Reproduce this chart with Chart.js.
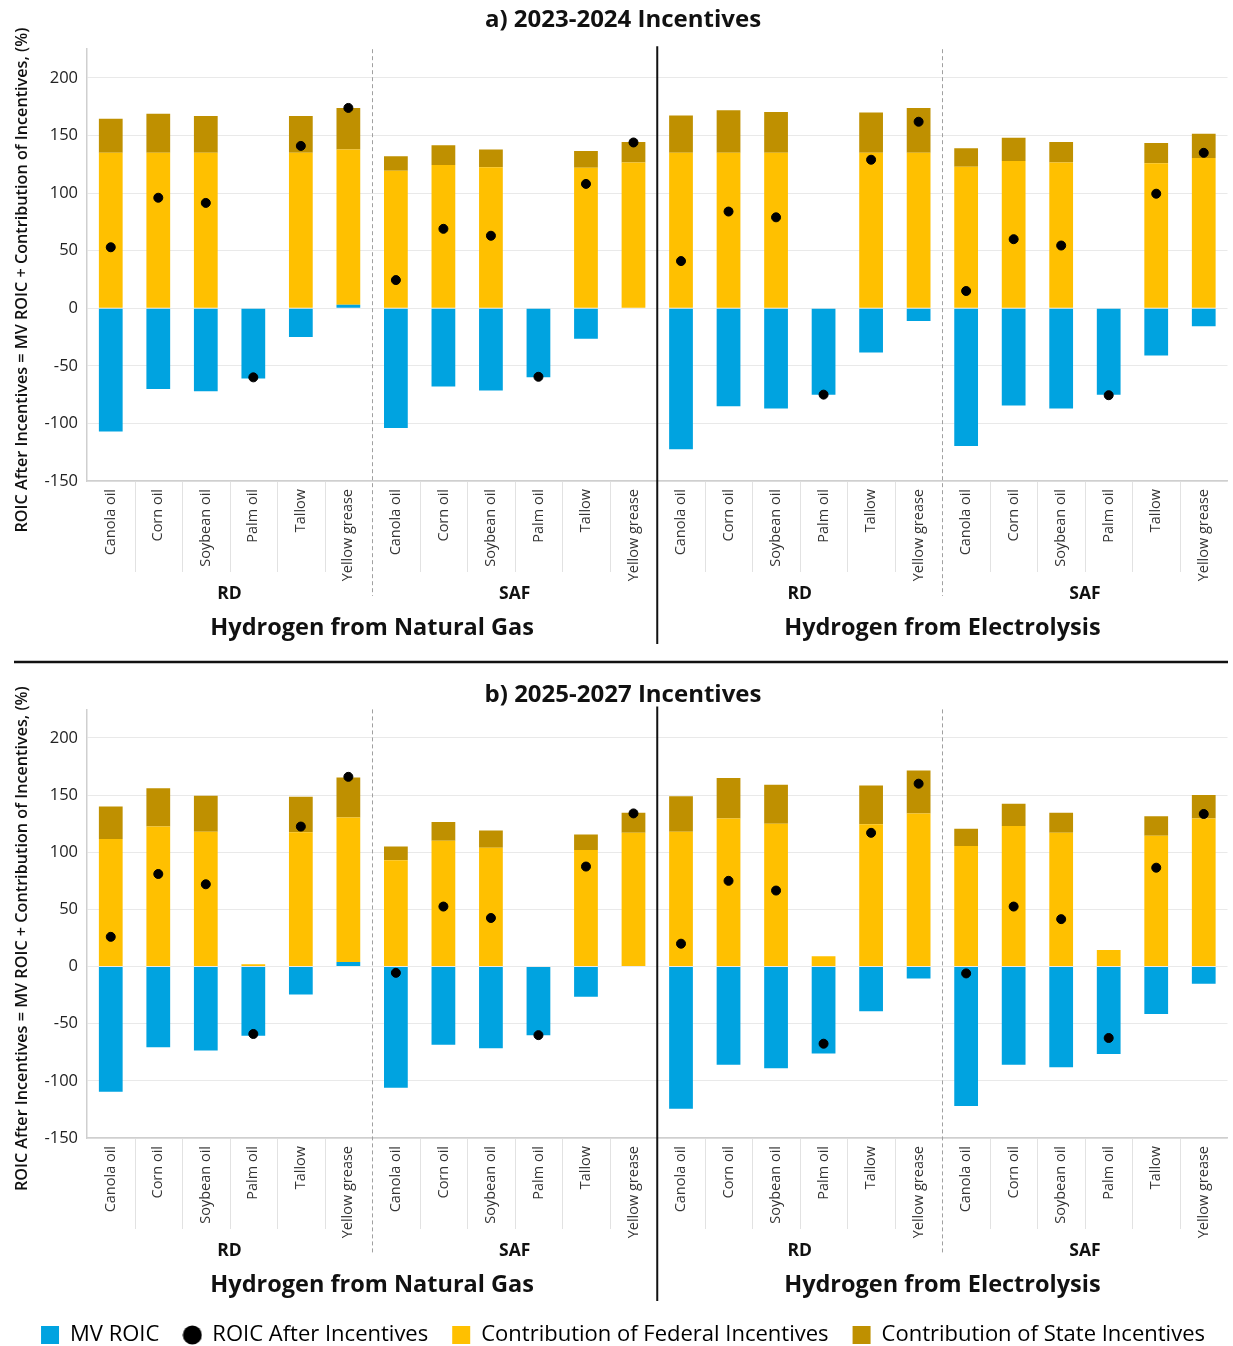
<!DOCTYPE html>
<html>
<head>
<meta charset="utf-8">
<script src="https://cdn.jsdelivr.net/npm/chart.js@4.4.1/dist/chart.umd.min.js"></script>
<style>
  html, body { margin: 0; padding: 0; background: #fff; overflow: hidden; }
  canvas { display: block; }
</style>
</head>
<body>
<canvas id="chartA" width="1233" height="668"></canvas>
<canvas id="chartB" width="1233" height="688"></canvas>
<script>
const feedstocks = ['Canola oil', 'Corn oil', 'Soybean oil', 'Palm oil', 'Tallow', 'Yellow grease'];
const categories = [...feedstocks, ...feedstocks, ...feedstocks, ...feedstocks];
const productLabels = ['RD', 'SAF', 'RD', 'SAF'];
const hydrogenLabels = ['Hydrogen from Natural Gas', 'Hydrogen from Electrolysis'];
const yTicks = [-150, -100, -50, 0, 50, 100, 150, 200];

// a) 2023-2024 incentives  (NG RD, NG SAF, Electrolysis RD, Electrolysis SAF)
const mvRoicA = [-107, -70, -72, -61, -25, 3,  -104, -68, -71.5, -60, -26.5, 0,
                 -122.5, -85, -87, -75, -38.5, -11,  -119.5, -84.5, -87, -75, -41, -15.5];
const federalA = [135, 135, 135, 0, 135, 135,  119.5, 124.5, 122.5, 0, 122, 126.5,
                  135, 135, 135, 0, 135, 135,  123, 128, 126.5, 0, 126, 130.5];
const stateA = [29.5, 34, 32, 0, 32, 36,  12.5, 17, 15.5, 0, 14.5, 18,
                32.5, 37, 35.5, 0, 35, 39,  16, 20, 18, 0, 17.5, 21];
const afterA = [53, 96, 91.5, -60, 141, 174,  24.5, 69, 63, -59.5, 108, 144,
                41, 84, 79, -75, 129, 162,  15, 60, 54.5, -75.5, 99.5, 135];

// b) 2025-2027 incentives
const mvRoicB = [-109.5, -70.5, -73.5, -60.5, -24.5, 4,  -106, -68.5, -71.5, -60, -26.5, 0,
                 -124.5, -86, -89, -76, -39, -10.5,  -122, -86, -88, -76.5, -41.5, -15];
const federalB = [111.5, 122.5, 118, 2, 117.5, 126.5,  93, 110, 104, 0, 102, 117,
                  118, 129.5, 125, 9, 124.5, 134,  105.5, 123, 117, 14.5, 114.5, 129.5];
const stateB = [28.5, 33.5, 31.5, 0, 31, 35,  12, 16.5, 15, 0, 13.5, 17.5,
                31, 35.5, 34, 0, 34, 37.5,  15, 19.5, 17.5, 0, 17, 20.5];
const afterB = [26, 81, 72, -59, 122.5, 166,  -5.5, 52.5, 42.5, -60, 87.5, 134,
                20, 75, 66.5, -67.5, 117, 160,  -6, 52.5, 41.5, -62.5, 86.5, 133.5];

const COLORS = { mv: '#00A3E0', federal: '#FFC000', state: '#BF9000', dot: '#000000' };
const FONT = 'Open Sans';

// small circle image for the legend dot
const dotIcon = document.createElement('canvas');
dotIcon.width = 20; dotIcon.height = 20;
(() => {
  const c = dotIcon.getContext('2d');
  c.fillStyle = '#000';
  c.beginPath();
  c.arc(10, 10, 9.5, 0, Math.PI * 2);
  c.fill();
})();

const decorPlugin = {
  id: 'decor',
  afterDraw(chart, args, opts) {
    const { ctx, chartArea: ca, scales: { x } } = chart;
    const boundary = (i) => (x.getPixelForValue(i - 1) + x.getPixelForValue(i)) / 2;
    ctx.save();

    // light separators between categories below the axis
    ctx.strokeStyle = '#e2e2e2';
    ctx.lineWidth = 1;
    for (let i = 1; i < categories.length; i++) {
      if (i % 6 === 0) continue;
      const bx = Math.round(boundary(i)) + 0.5;
      ctx.beginPath();
      ctx.moveTo(bx, ca.bottom + 1);
      ctx.lineTo(bx, ca.bottom + 91);
      ctx.stroke();
    }

    // dashed RD / SAF separators
    ctx.strokeStyle = '#a0a0a0';
    ctx.setLineDash([4, 3]);
    [6, 18].forEach(i => {
      const bx = Math.round(boundary(i)) + 0.5;
      ctx.beginPath();
      ctx.moveTo(bx, ca.top);
      ctx.lineTo(bx, ca.bottom + 115);
      ctx.stroke();
    });
    ctx.setLineDash([]);

    // solid separator between hydrogen sources
    const mx = boundary(12);
    ctx.strokeStyle = '#111';
    ctx.lineWidth = 2;
    ctx.beginPath();
    ctx.moveTo(mx, ca.top - 3);
    ctx.lineTo(mx, ca.bottom + 163);
    ctx.stroke();

    // group labels
    ctx.fillStyle = '#111';
    ctx.textAlign = 'center';
    ctx.textBaseline = 'middle';
    ctx.font = `bold 17.5px "${FONT}"`;
    productLabels.forEach((lab, g) => {
      const cx = (x.getPixelForValue(g * 6) + x.getPixelForValue(g * 6 + 5)) / 2;
      ctx.fillText(lab, cx, ca.bottom + 113);
    });
    ctx.font = `bold 23.5px "${FONT}"`;
    hydrogenLabels.forEach((lab, g) => {
      const cx = (x.getPixelForValue(g * 12) + x.getPixelForValue(g * 12 + 11)) / 2;
      ctx.fillText(lab, cx, ca.bottom + 147);
    });

    // y axis title
    ctx.save();
    ctx.translate(22, (ca.top + ca.bottom) / 2 + 15);
    ctx.rotate(-Math.PI / 2);
    ctx.font = `600 16.2px "${FONT}"`;
    ctx.fillText('ROIC After Incentives = MV ROIC + Contribution of Incentives, (%)', 0, 0);
    ctx.restore();

    // horizontal rule between panels
    if (opts.rule) {
      ctx.strokeStyle = '#111';
      ctx.lineWidth = 2.5;
      ctx.beginPath();
      ctx.moveTo(14, opts.rule);
      ctx.lineTo(1228, opts.rule);
      ctx.stroke();
    }
    ctx.restore();
  }
};

function makeChart(id, title, mv, fed, state, after, cfg) {
  const barCommon = { stack: 'roic', order: 1, barPercentage: 0.5, categoryPercentage: 1, borderWidth: 0 };
  return new Chart(document.getElementById(id), {
    type: 'bar',
    data: {
      labels: categories,
      datasets: [
        { type: 'line', label: 'ROIC After Incentives', data: after, stack: 'dots', order: 0,
          showLine: false, pointRadius: 4.5, pointHoverRadius: 4.5,
          pointBackgroundColor: COLORS.dot, pointBorderColor: COLORS.dot, borderColor: COLORS.dot, backgroundColor: COLORS.dot },
        { label: 'MV ROIC', data: mv, backgroundColor: COLORS.mv, ...barCommon },
        { label: 'Contribution of Federal Incentives', data: fed, backgroundColor: COLORS.federal, ...barCommon },
        { label: 'Contribution of State Incentives', data: state, backgroundColor: COLORS.state, ...barCommon },
      ],
    },
    options: {
      responsive: false,
      animation: false,
      layout: { padding: { left: 14, right: 1, top: 0, bottom: 0 } },
      scales: {
        x: {
          stacked: true,
          offset: true,
          grid: { display: false },
          border: { display: true, color: '#cfcfcf', width: 1.5 },
          ticks: {
            autoSkip: false, minRotation: 90, maxRotation: 90, padding: 0,
            color: '#333', font: { family: FONT, size: 14.5 },
          },
          afterFit: (s) => {
            const lg = cfg.legend && s.chart.legend ? s.chart.legend.height : 0;
            s.height = s.chart.height - cfg.plotBottom - lg;
          },
        },
        y: {
          stacked: true,
          min: -150,
          max: 225,
          afterBuildTicks: (s) => { s.ticks = yTicks.map(v => ({ value: v })); },
          grid: { color: '#e9e9e9', drawTicks: false },
          border: { display: true, color: '#cfcfcf', width: 1.5 },
          ticks: { padding: 9, color: '#222', font: { family: FONT, size: 16.5 } },
          afterFit: (s) => { s.width = 73; },
        },
      },
      plugins: {
        title: {
          display: true,
          text: title,
          color: '#111',
          font: { family: FONT, size: 24, weight: 'bold' },
          padding: cfg.titlePadding,
        },
        legend: {
          display: cfg.legend,
          position: 'bottom',
          labels: {
            usePointStyle: true,
            boxWidth: 18,
            boxHeight: 18,
            padding: 24,
            color: '#222',
            font: { family: FONT, size: 22 },
            generateLabels: () => [
              { text: 'MV ROIC', fillStyle: COLORS.mv, strokeStyle: COLORS.mv, lineWidth: 0, pointStyle: 'rect', datasetIndex: 1 },
              { text: 'ROIC After Incentives', fillStyle: COLORS.dot, strokeStyle: COLORS.dot, lineWidth: 0, pointStyle: dotIcon, datasetIndex: 0 },
              { text: 'Contribution of Federal Incentives', fillStyle: COLORS.federal, strokeStyle: COLORS.federal, lineWidth: 0, pointStyle: 'rect', datasetIndex: 2 },
              { text: 'Contribution of State Incentives', fillStyle: COLORS.state, strokeStyle: COLORS.state, lineWidth: 0, pointStyle: 'rect', datasetIndex: 3 },
            ],
          },
        },
        tooltip: { enabled: false },
        decor: { rule: cfg.rule },
      },
    },
    plugins: [decorPlugin],
  });
}

makeChart('chartA', 'a) 2023-2024 Incentives', mvRoicA, federalA, stateA, afterA,
  { plotBottom: 481, legend: false, titlePadding: { top: 5.6, bottom: 14.8 }, rule: 662 });
makeChart('chartB', 'b) 2025-2027 Incentives', mvRoicB, federalB, stateB, afterB,
  { plotBottom: 470, legend: true, titlePadding: { top: 12.6, bottom: 0 }, rule: 0 });
</script>
</body>
</html>
